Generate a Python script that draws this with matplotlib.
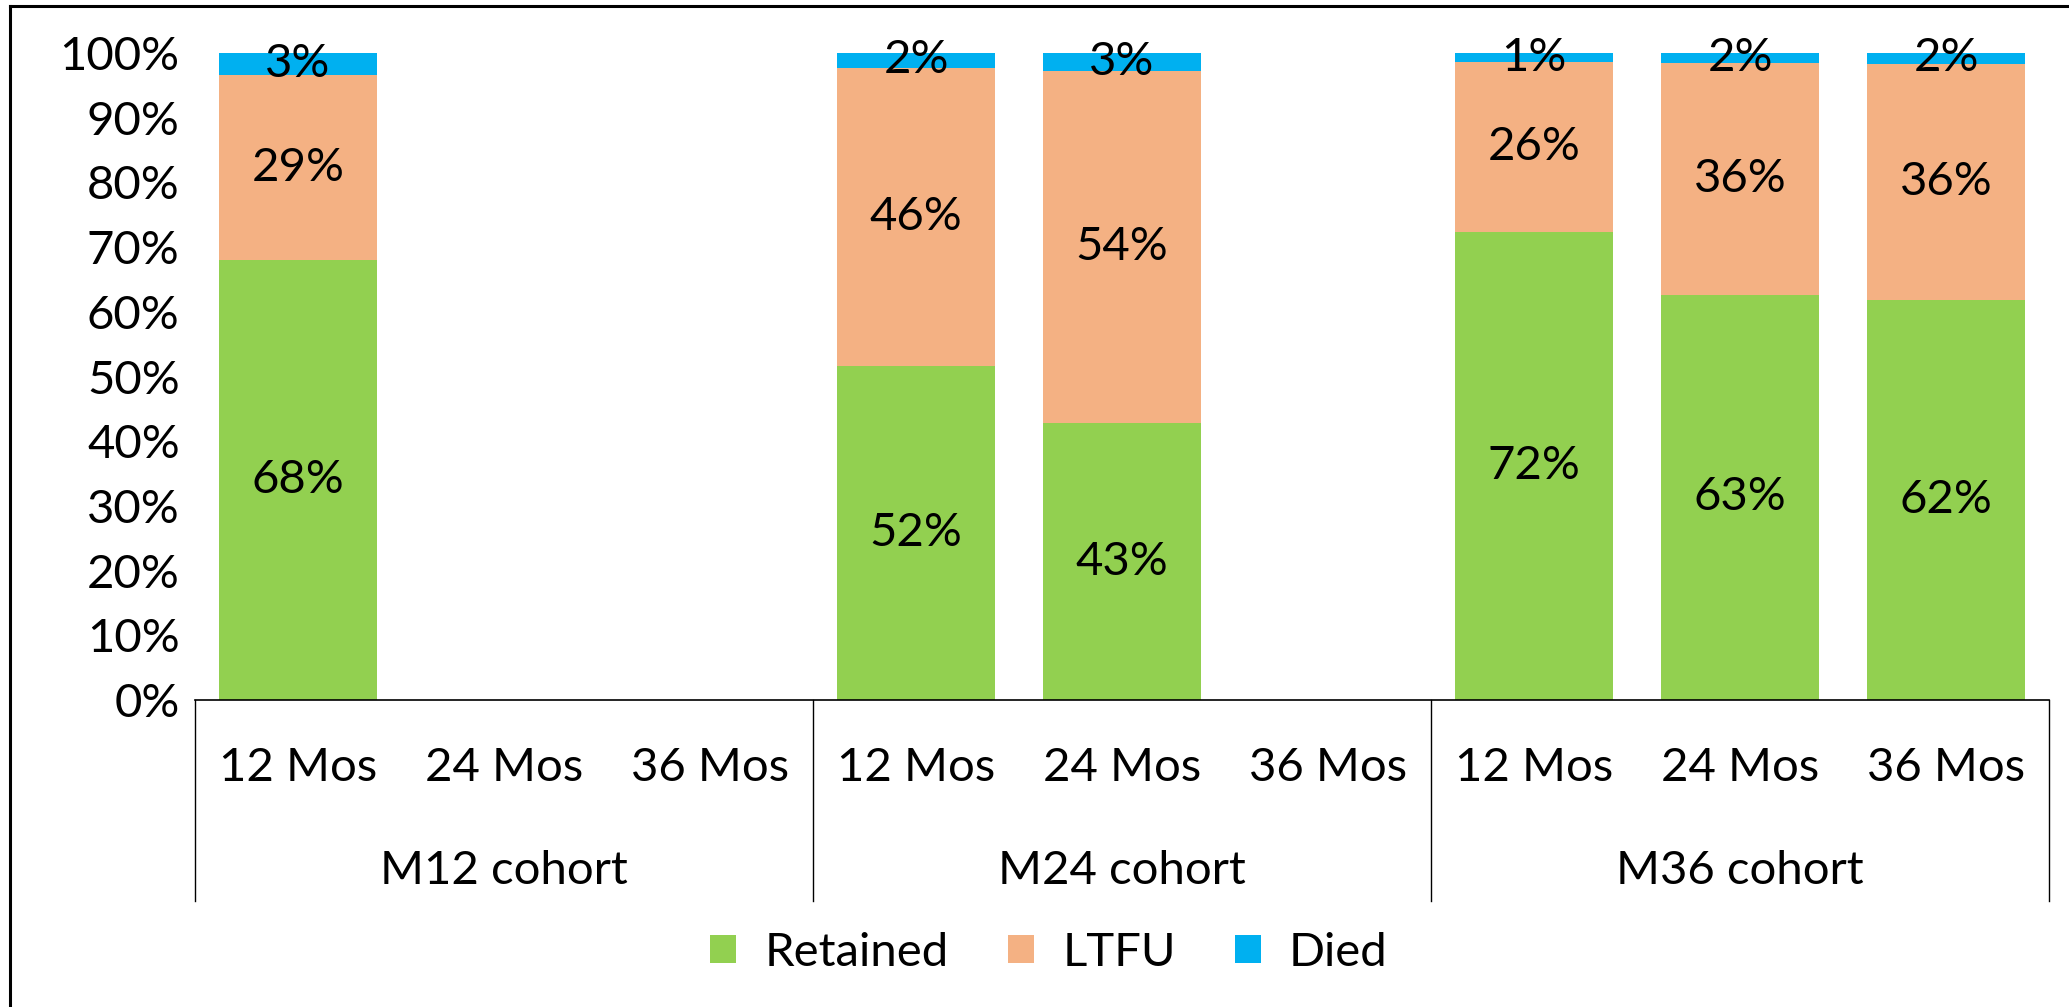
import numpy as np
import matplotlib.pyplot as plt
from matplotlib.patches import Patch
from matplotlib.lines import Line2D

plt.rcParams["font.family"] = ["Lato", "DejaVu Sans"]

cohorts = ["M12 cohort", "M24 cohort", "M36 cohort"]
periods = ["12 Mos", "24 Mos", "36 Mos"]
series = ["Retained", "LTFU", "Died"]
colors = ["#92D050", "#F4B183", "#00B0F0"]

# one value per (cohort, period) slot, NaN where there is no bar
retained = [68.0, np.nan, np.nan, 51.7, 42.8, np.nan, 72.3, 62.6, 61.9]
ltfu = [28.6, np.nan, np.nan, 46.0, 54.4, np.nan, 26.3, 35.8, 36.4]
died = [3.4, np.nan, np.nan, 2.3, 2.8, np.nan, 1.4, 1.6, 1.7]

W, H = 2069, 1007
fig = plt.figure(figsize=(W / 100, H / 100), dpi=100)
ax = fig.add_axes([195 / W, 1 - 700 / H, (2049 - 195) / W, (700 - 53) / H])

fs = 34
x = np.arange(len(retained))
vals = np.array([retained, ltfu, died])
bottom = np.zeros(len(x))
for name, v, c in zip(series, vals, colors):
    v = np.nan_to_num(v)
    ax.bar(x, v, 0.77, bottom=bottom, color=c, label=name)
    for xi, b, h in zip(x, bottom, v):
        if h > 0:
            ax.text(xi, b + h / 2, f"{h:.0f}%", ha="center", va="center", fontsize=fs)
    bottom += v

ax.set_xlim(-0.5, len(x) - 0.5)
ax.set_ylim(0, 100)
ax.set_yticks(np.arange(0, 101, 10))
ax.set_yticklabels([f"{t}%" for t in range(0, 101, 10)], fontsize=fs)
ax.tick_params(axis="y", length=0, pad=11)
ax.tick_params(axis="x", length=0)
for s in ["left", "right", "top"]:
    ax.spines[s].set_visible(False)
ax.spines["bottom"].set_linewidth(1.2)

ax.set_xticks(x)
ax.set_xticklabels([])
trans = ax.get_xaxis_transform()
for i in x:
    ax.text(i, -0.105, periods[i % 3], transform=trans, ha="center", va="center", fontsize=fs)
for j, name in enumerate(cohorts):
    ax.text(3 * j + 1, -0.264, name, transform=trans, ha="center", va="center", fontsize=fs)
for xs in [-0.5, 2.5, 5.5, 8.5]:
    ax.plot([xs, xs], [0, -0.311], transform=trans, color="black", lw=1.0, clip_on=False)

handles = [Patch(facecolor=c, label=s) for s, c in zip(series, colors)]
fig.legend(handles=handles, loc="center", bbox_to_anchor=(0.507, 0.054), ncol=3,
           frameon=False, fontsize=fs, handlelength=0.55, handleheight=0.55,
           handletextpad=0.6, columnspacing=1.25)

# chart frame: only the left and top edges fall inside the picture
fig.lines.append(Line2D([10 / W, 10 / W], [0, 1 - 6 / H], transform=fig.transFigure,
                        color="black", lw=2.2))
fig.lines.append(Line2D([10 / W, 1], [1 - 6 / H, 1 - 6 / H], transform=fig.transFigure,
                        color="black", lw=2.2))

fig.savefig("out.png", dpi=100)
